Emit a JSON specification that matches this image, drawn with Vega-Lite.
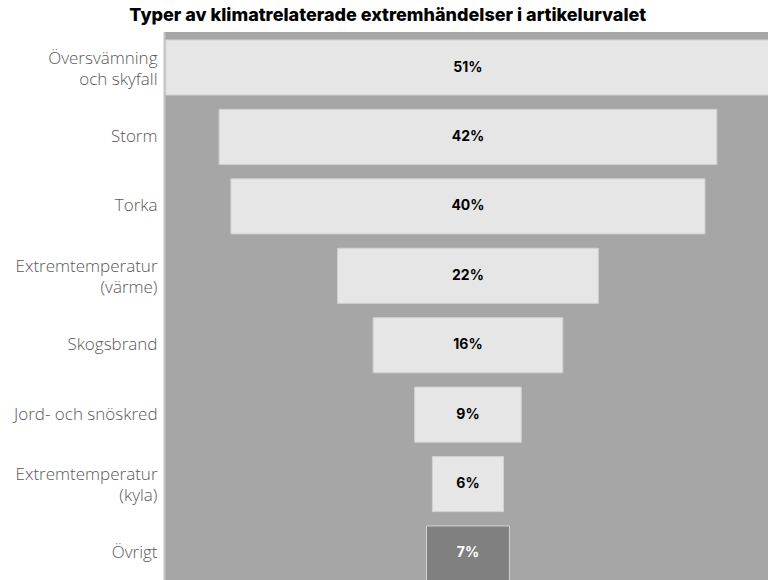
{
  "$schema": "https://vega.github.io/schema/vega-lite/v6.json",
  "autosize": {"type": "none"},
  "width": 604,
  "height": 548,
  "padding": {"left": 164, "top": 32, "right": 0, "bottom": 0},
  "title": {
    "text": "Typer av klimatrelaterade extremhändelser i artikelurvalet",
    "font": "Inter",
    "fontSize": 18,
    "fontWeight": 800,
    "color": "#000000",
    "anchor": "middle",
    "frame": "bounds",
    "dx": -3,
    "offset": 7
  },
  "config": {
    "view": {"fill": "#a6a6a6", "stroke": null},
    "background": "#ffffff"
  },
  "data": {
    "values": [
      {"typ": "Översvämning och skyfall", "andel": 0.51},
      {"typ": "Storm", "andel": 0.42},
      {"typ": "Torka", "andel": 0.40},
      {"typ": "Extremtemperatur (värme)", "andel": 0.22},
      {"typ": "Skogsbrand", "andel": 0.16},
      {"typ": "Jord- och snöskred", "andel": 0.09},
      {"typ": "Extremtemperatur (kyla)", "andel": 0.06},
      {"typ": "Övrigt", "andel": 0.07}
    ]
  },
  "encoding": {
    "y": {
      "field": "typ",
      "type": "nominal",
      "sort": null,
      "scale": {"paddingInner": 0.207, "paddingOuter": 0.115, "range": [0, 557]},
      "axis": {
        "title": null,
        "ticks": false,
        "domain": true,
        "domainColor": "#c4c4c4",
        "domainWidth": 2,
        "labelFont": "Open Sans",
        "labelFontSize": 17,
        "labelFontWeight": 300,
        "labelColor": "#585858",
        "labelPadding": 7,
        "labelLineHeight": 21,
        "labelLimit": 200,
        "labelOffset": {"condition": {"test": "indexof(datum.value, ' (') > 0 || datum.value == 'Översvämning och skyfall'", "value": -9}, "value": 0},
        "labelExpr": "datum.label == 'Översvämning och skyfall' ? ['Översvämning', 'och skyfall'] : indexof(datum.label, ' (') > 0 ? [slice(datum.label, 0, indexof(datum.label, ' (')), slice(datum.label, indexof(datum.label, ' (') + 1)] : datum.label"
      }
    }
  },
  "layer": [
    {
      "mark": {"type": "bar", "clip": true, "stroke": "#d2d2d2", "strokeWidth": 1},
      "encoding": {
        "x": {
          "field": "andel",
          "type": "quantitative",
          "stack": "center",
          "scale": {"domain": [-0.0015, 0.5082], "nice": false, "zero": false},
          "axis": null
        },
        "color": {
          "condition": {"test": "datum.typ === 'Övrigt'", "value": "#808080"},
          "value": "#e6e6e6"
        }
      }
    },
    {
      "mark": {"type": "text", "font": "Inter", "fontSize": 14, "fontWeight": 700, "align": "center", "baseline": "middle"},
      "encoding": {
        "x": {"datum": 0.255, "type": "quantitative"},
        "text": {"field": "andel", "type": "quantitative", "format": ".0%"},
        "color": {
          "condition": {"test": "datum.typ === 'Övrigt'", "value": "#ffffff"},
          "value": "#000000"
        }
      }
    }
  ]
}
